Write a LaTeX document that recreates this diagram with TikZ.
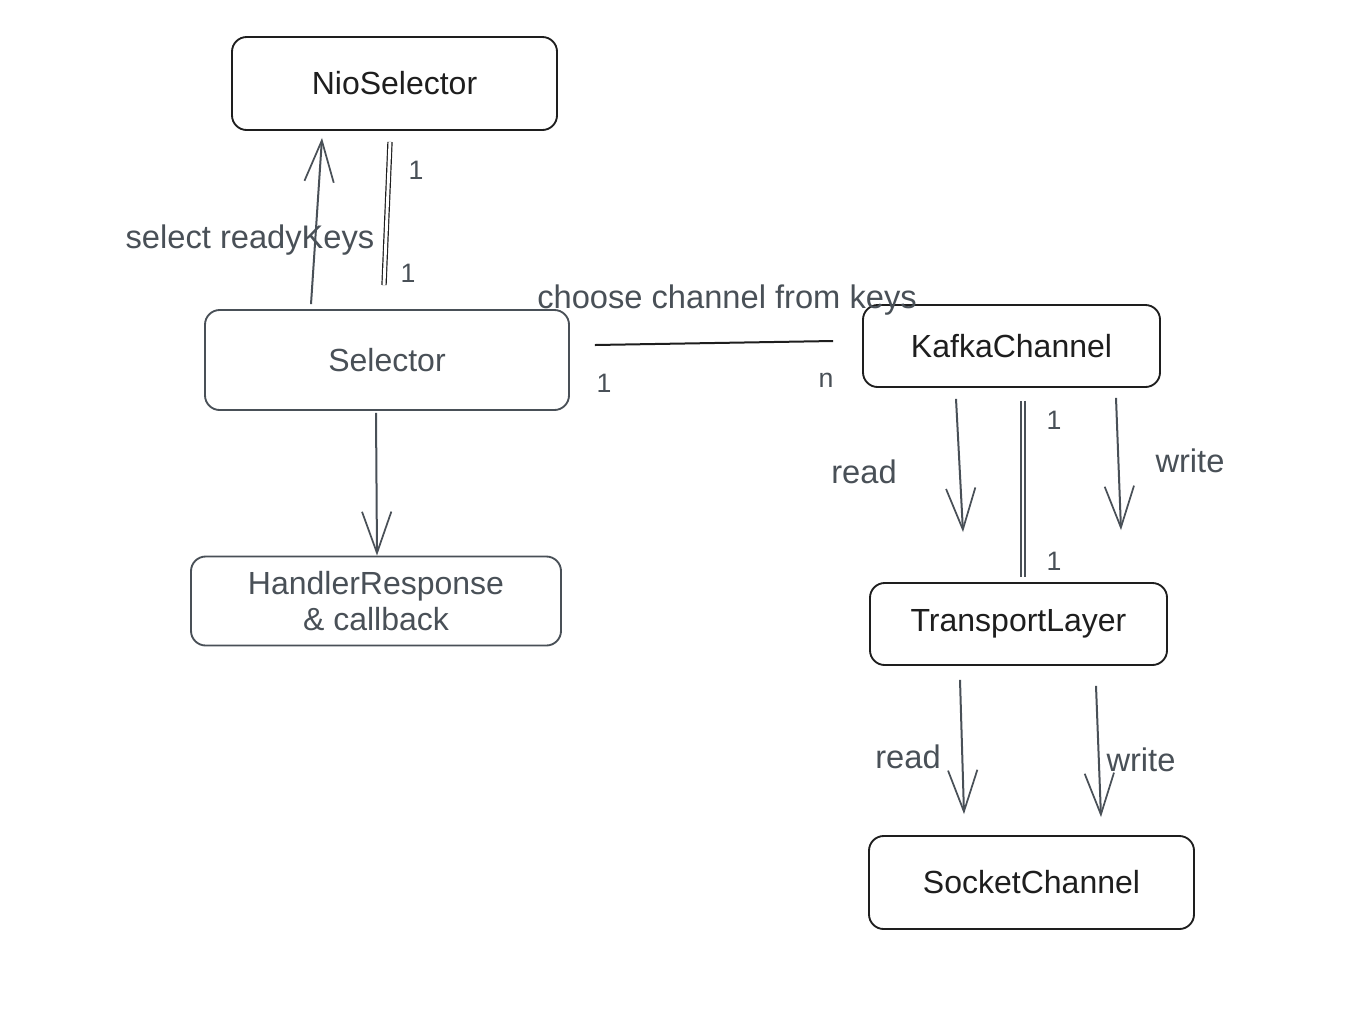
\documentclass[tikz,border=0pt]{standalone}
\usepackage{fontspec}
\setmainfont{Liberation Sans}
\usetikzlibrary{arrows.meta,calc}
\definecolor{ink}{HTML}{1E1E1E}
\definecolor{slate}{HTML}{495057}
\begin{document}
\begin{tikzpicture}[x=0.75pt,y=-0.75pt,
  box/.style={draw, rounded corners=11pt, line width=1.4pt, align=center,
    font=\fontsize{24}{28}\selectfont, inner sep=0pt},
  darkbox/.style={box, draw=ink, text=ink},
  greybox/.style={box, draw=slate, text=slate},
  flow/.style={draw=slate, line width=1.5pt,
    -{Straight Barb[length=31pt,width=22pt,line width=1.3pt]}},
  pairline/.style={double=white, double distance=2.2pt, line width=0.9pt},
  plain/.style={draw=ink, line width=1.5pt},
  lbl/.style={text=slate, font=\fontsize{24.5}{28}\selectfont, inner sep=0pt},
  card/.style={text=slate, font=\fontsize{20}{24}\selectfont, inner sep=0pt}]
\useasboundingbox (0,0) rectangle (1348,1008);

% components
\node[darkbox, minimum width=0.75*325pt, minimum height=0.75*93pt]  (nio)   at (394.5,83.5) {NioSelector};
\node[greybox, minimum width=0.75*364pt, minimum height=0.75*100pt] (sel)   at (387,360)    {Selector};
\node[greybox, minimum width=0.75*370pt, minimum height=0.75*89pt]  (hand)  at (376,601)    {HandlerResponse\\[-1pt]\& callback};
\node[darkbox, minimum width=0.75*297pt, minimum height=0.75*82pt]  (kafka) at (1011.5,346) {KafkaChannel};
\node[darkbox, minimum width=0.75*297pt, minimum height=0.75*82pt]  (trans) at (1018.5,624) {TransportLayer};
\node[darkbox, minimum width=0.75*325pt, minimum height=0.75*93pt]  (sock)  at (1031.5,882.5) {SocketChannel};

% labels
\node[lbl] (lselect) at (250,240) {select readyKeys};
\node[lbl] (lchoose) at (727,300) {choose channel from keys};
\node[lbl] (lread1)  at (864,472) {read};
\node[lbl] (lwrite1) at (1190,461) {write};
\node[lbl] (lread2)  at (908,757) {read};
\node[lbl] (lwrite2) at (1141,760) {write};

% multiplicities
\node[card] (c1) at (416,170) {1};
\node[card] (c2) at (408,273) {1};
\node[card] (c3) at (604,383) {1};
\node[card] (c4) at (826,380) {n};
\node[card] (c5) at (1054,420) {1};
\node[card] (c6) at (1054,561) {1};

% Selector <-> NioSelector
\draw[flow] ($(sel.north)+(-76,-5)$) -- ($(nio.south)+(-72.5,7)$);
\draw[pairline, draw=ink] ($(nio.south)+(-4.5,11)$) -- ($(sel.north)+(-3,-24)$);

% Selector -> HandlerResponse
\draw[flow] ($(sel.south)+(-11,2)$) -- ($(hand.north)+(1,0)$);

% Selector -- KafkaChannel
\draw[plain] ($(sel.east)+(25,-15)$) -- ($(kafka.west)+(-29,-5)$);

% KafkaChannel -> TransportLayer
\draw[flow] ($(kafka.south)+(-55.5,11)$) -- ($(trans.north)+(-55.5,-50)$);
\draw[pairline, draw=slate] ($(kafka.south)+(11.5,13)$) -- ($(trans.north)+(4.5,-5)$);
\draw[flow] ($(kafka.south)+(104.5,10)$) -- ($(trans.north)+(102.5,-52)$);

% TransportLayer -> SocketChannel
\draw[flow] ($(trans.south)+(-58.5,14)$) -- ($(sock.north)+(-67.5,-21)$);
\draw[flow] ($(trans.south)+(77.5,20)$) -- ($(sock.north)+(69.5,-18)$);
\end{tikzpicture}
\end{document}
